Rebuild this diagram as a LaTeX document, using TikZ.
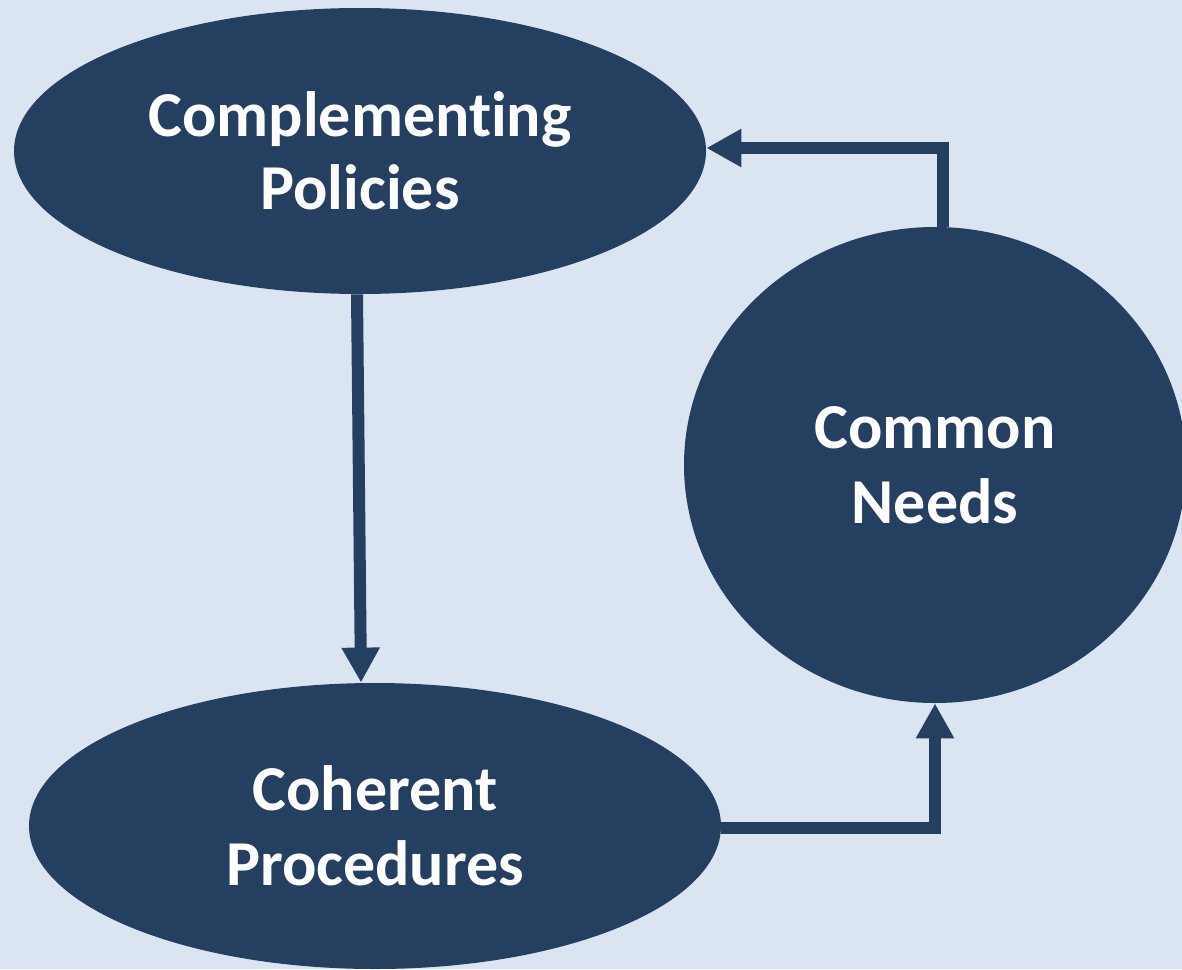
\documentclass[tikz,border=0pt]{standalone}
\usepackage{fontspec}
\setmainfont[Ligatures=NoCommon]{Carlito}
\usetikzlibrary{shapes.geometric,arrows.meta}
\definecolor{bg}{RGB}{218,229,241}
\definecolor{navy}{RGB}{37,63,97}
\begin{document}
\begin{tikzpicture}[x=0.5pt,y=-0.5pt,
  blob/.style={ellipse,fill=navy,draw=none,inner sep=0pt,text=white,align=center,
    font=\fontsize{32}{37.5}\selectfont\bfseries},
  arr/.style={navy,line width=6pt,-{Triangle[width=18pt,length=17.5pt]}}]
\useasboundingbox (0,0) rectangle (1182,969);
\fill[bg] (0,0) rectangle (1182,969);
\node[blob,minimum width=346pt,minimum height=143pt] (p) at (360,151) {\raisebox{-1pt}{Complementing}\\Policies};
\node[blob,minimum width=346pt,minimum height=143pt] (c) at (375,826) {Coherent\\Procedures};
\node[blob,minimum width=251pt,minimum height=238pt] (n) at (935,465) {Common\\Needs};
\draw[arr] ([xshift=-1.5pt]p.south) -- ([xshift=-7pt]c.north);
\draw[arr] ([yshift=-1pt]c.east) -| (n.south);
\draw[arr] ([xshift=4pt]n.north) |- ([yshift=1.5pt]p.east);
\end{tikzpicture}
\end{document}
